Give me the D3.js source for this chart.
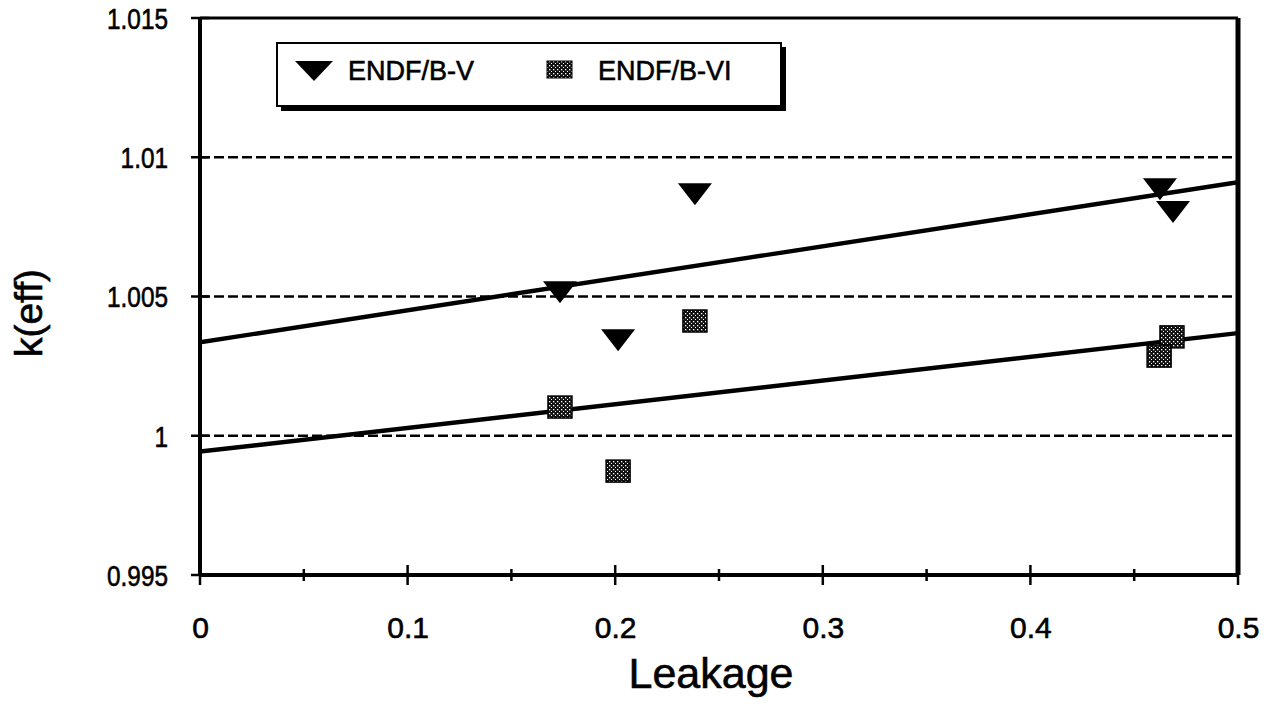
<!DOCTYPE html>
<html><head><meta charset="utf-8">
<script src="https://cdn.jsdelivr.net/npm/d3@7/dist/d3.min.js"></script>
<style>body{margin:0;background:#fff}svg{display:block}text{font-family:"Liberation Sans",Arial,sans-serif;fill:#000;stroke:#000;stroke-width:0.6px}</style>
</head><body><svg id="c" width="1268" height="707"></svg>
<script>
// Data
const seriesNames = ["ENDF/B-V", "ENDF/B-VI"];
const leakageV  = [0.1734, 0.2014, 0.2384, 0.4624, 0.4687];
const keffV     = [1.00523, 1.00351, 1.00875, 1.00893, 1.00811];
const leakageVI = [0.1734, 0.2014, 0.2384, 0.4682, 0.4620];
const keffVI    = [1.00103, 0.99873, 1.00412, 1.00355, 1.00286];
const xTicks = [0, 0.1, 0.2, 0.3, 0.4, 0.5];
const xMinorTicks = [0.05, 0.15, 0.25, 0.35, 0.45];
const yTicks = [0.995, 1, 1.005, 1.01, 1.015];
const yTickLabels = ["0.995", "1", "1.005", "1.01", "1.015"];
const gridValues = [1, 1.005, 1.01];

const svg = d3.select("#c");
const L = 200, R = 1238, T = 18, B = 575;
const x = d3.scaleLinear().domain([0, 0.5]).range([L, R]);
const y = d3.scaleLinear().domain([0.995, 1.015]).range([B, T]);

// pattern for squares
const defs = svg.append("defs");
const pat = defs.append("pattern").attr("id","dots").attr("width",4).attr("height",4).attr("patternUnits","userSpaceOnUse");
pat.append("rect").attr("width",4).attr("height",4).attr("fill","#111");
pat.append("rect").attr("x",1).attr("y",1).attr("width",1.3).attr("height",1.3).attr("fill","#fff");
pat.append("rect").attr("x",3).attr("y",3).attr("width",1.3).attr("height",1.3).attr("fill","#fff");
const clip = defs.append("clipPath").attr("id","pc");
clip.append("rect").attr("x",L).attr("y",T).attr("width",R-L).attr("height",B-T);

// grid
svg.append("g").selectAll("line").data(gridValues).join("line")
  .attr("x1",L).attr("x2",R).attr("y1",d=>y(d)).attr("y2",d=>y(d))
  .attr("stroke","#000").attr("stroke-width",2.6).attr("stroke-dasharray","10,4");

// regression lines (least squares fit of each series)
function fit(xs, ys){
  const n = xs.length, mx = d3.mean(xs), my = d3.mean(ys);
  let sxy = 0, sxx = 0;
  for (let i=0;i<n;i++){ sxy += (xs[i]-mx)*(ys[i]-my); sxx += (xs[i]-mx)**2; }
  const b = sxy/sxx, a = my - b*mx;
  return [[0, a], [0.5, a + b*0.5]];
}
const lineGen = d3.line().x(d=>x(d[0])).y(d=>y(d[1]));
[fit(leakageV,keffV), fit(leakageVI,keffVI)].forEach(pts=>{
  svg.append("path").attr("d", lineGen(pts)).attr("stroke","#000").attr("stroke-width",4.4).attr("fill","none").attr("clip-path","url(#pc)");
});

// axes
const xAxis = d3.axisBottom(x).tickValues(xTicks).tickSize(0).tickFormat(d3.format("~g"));
const gx = svg.append("g").attr("transform",`translate(0,${B})`).call(xAxis);
gx.select(".domain").remove();
gx.selectAll("text").attr("dy", 0).attr("y", 63).style("font-size","30px").style("font-family","'Liberation Sans',Arial,sans-serif");
const yAxis = d3.axisLeft(y).tickValues(yTicks).tickSize(0).tickFormat((d,i)=>yTickLabels[i]);
const gy = svg.append("g").attr("transform",`translate(${L},0)`).call(yAxis);
gy.select(".domain").remove();
gy.selectAll("text").attr("x", 0).attr("dy","0.36em").attr("transform","translate(-32,0) scale(0.84,1)")
  .style("font-size","29px").style("font-family","'Liberation Sans',Arial,sans-serif");

// tick marks crossing axes
svg.append("g").selectAll("line").data(xTicks).join("line")
  .attr("x1",d=>x(d)).attr("x2",d=>x(d)).attr("y1",B-10).attr("y2",B+10).attr("stroke","#000").attr("stroke-width",2.5);
svg.append("g").selectAll("line").data(xMinorTicks).join("line")
  .attr("x1",d=>x(d)).attr("x2",d=>x(d)).attr("y1",B-6).attr("y2",B+6).attr("stroke","#000").attr("stroke-width",2.5);
svg.append("g").selectAll("line").data(yTicks).join("line")
  .attr("x1",L-9).attr("x2",L+9).attr("y1",d=>y(d)).attr("y2",d=>y(d)).attr("stroke","#000").attr("stroke-width",2.5);

// frame
svg.append("line").attr("x1",L).attr("x2",L).attr("y1",T).attr("y2",B).attr("stroke","#000").attr("stroke-width",4);
svg.append("line").attr("x1",L).attr("x2",R).attr("y1",B).attr("y2",B).attr("stroke","#000").attr("stroke-width",4);
svg.append("line").attr("x1",L).attr("x2",R).attr("y1",T).attr("y2",T).attr("stroke","#000").attr("stroke-width",3);
svg.append("line").attr("x1",R).attr("x2",R).attr("y1",T).attr("y2",B).attr("stroke","#000").attr("stroke-width",5);

// markers
const tri = (cx,cy,w,h)=>`M${cx-w/2},${cy-h*0.4}L${cx+w/2},${cy-h*0.4}L${cx},${cy+h*0.6}Z`;
svg.append("g").selectAll("path").data(leakageV.map((d,i)=>[d,keffV[i]])).join("path")
  .attr("d",d=>tri(x(d[0]),y(d[1]),34,22)).attr("fill","#000");
svg.append("g").selectAll("rect").data(leakageVI.map((d,i)=>[d,keffVI[i]])).join("rect")
  .attr("x",d=>x(d[0])-12).attr("y",d=>y(d[1])-11).attr("width",24).attr("height",22)
  .attr("fill","url(#dots)").attr("stroke","#000").attr("stroke-width",1.5);

// legend
const lg = svg.append("g");
lg.append("rect").attr("x",281).attr("y",47).attr("width",505).attr("height",64).attr("fill","#000");
lg.append("rect").attr("x",277).attr("y",43).attr("width",504).attr("height",63).attr("fill","#fff").attr("stroke","#000").attr("stroke-width",2);
lg.append("path").attr("d",tri(314,69,38,20)).attr("fill","#000");
lg.append("text").attr("x",348).attr("y",80).style("font-size","27px").text(seriesNames[0]);
lg.append("rect").attr("x",547).attr("y",61).attr("width",25).attr("height",17).attr("fill","url(#dots)").attr("stroke","#000").attr("stroke-width",1);
lg.append("text").attr("x",598).attr("y",80).style("font-size","27px").text(seriesNames[1]);

// axis titles
svg.append("text").attr("x",711).attr("y",688).attr("text-anchor","middle").style("font-size","43px").text("Leakage");
svg.append("text").attr("transform",`translate(42,313) rotate(-90)`).attr("text-anchor","middle").style("font-size","39px").text("k(eff)");
</script></body></html>
